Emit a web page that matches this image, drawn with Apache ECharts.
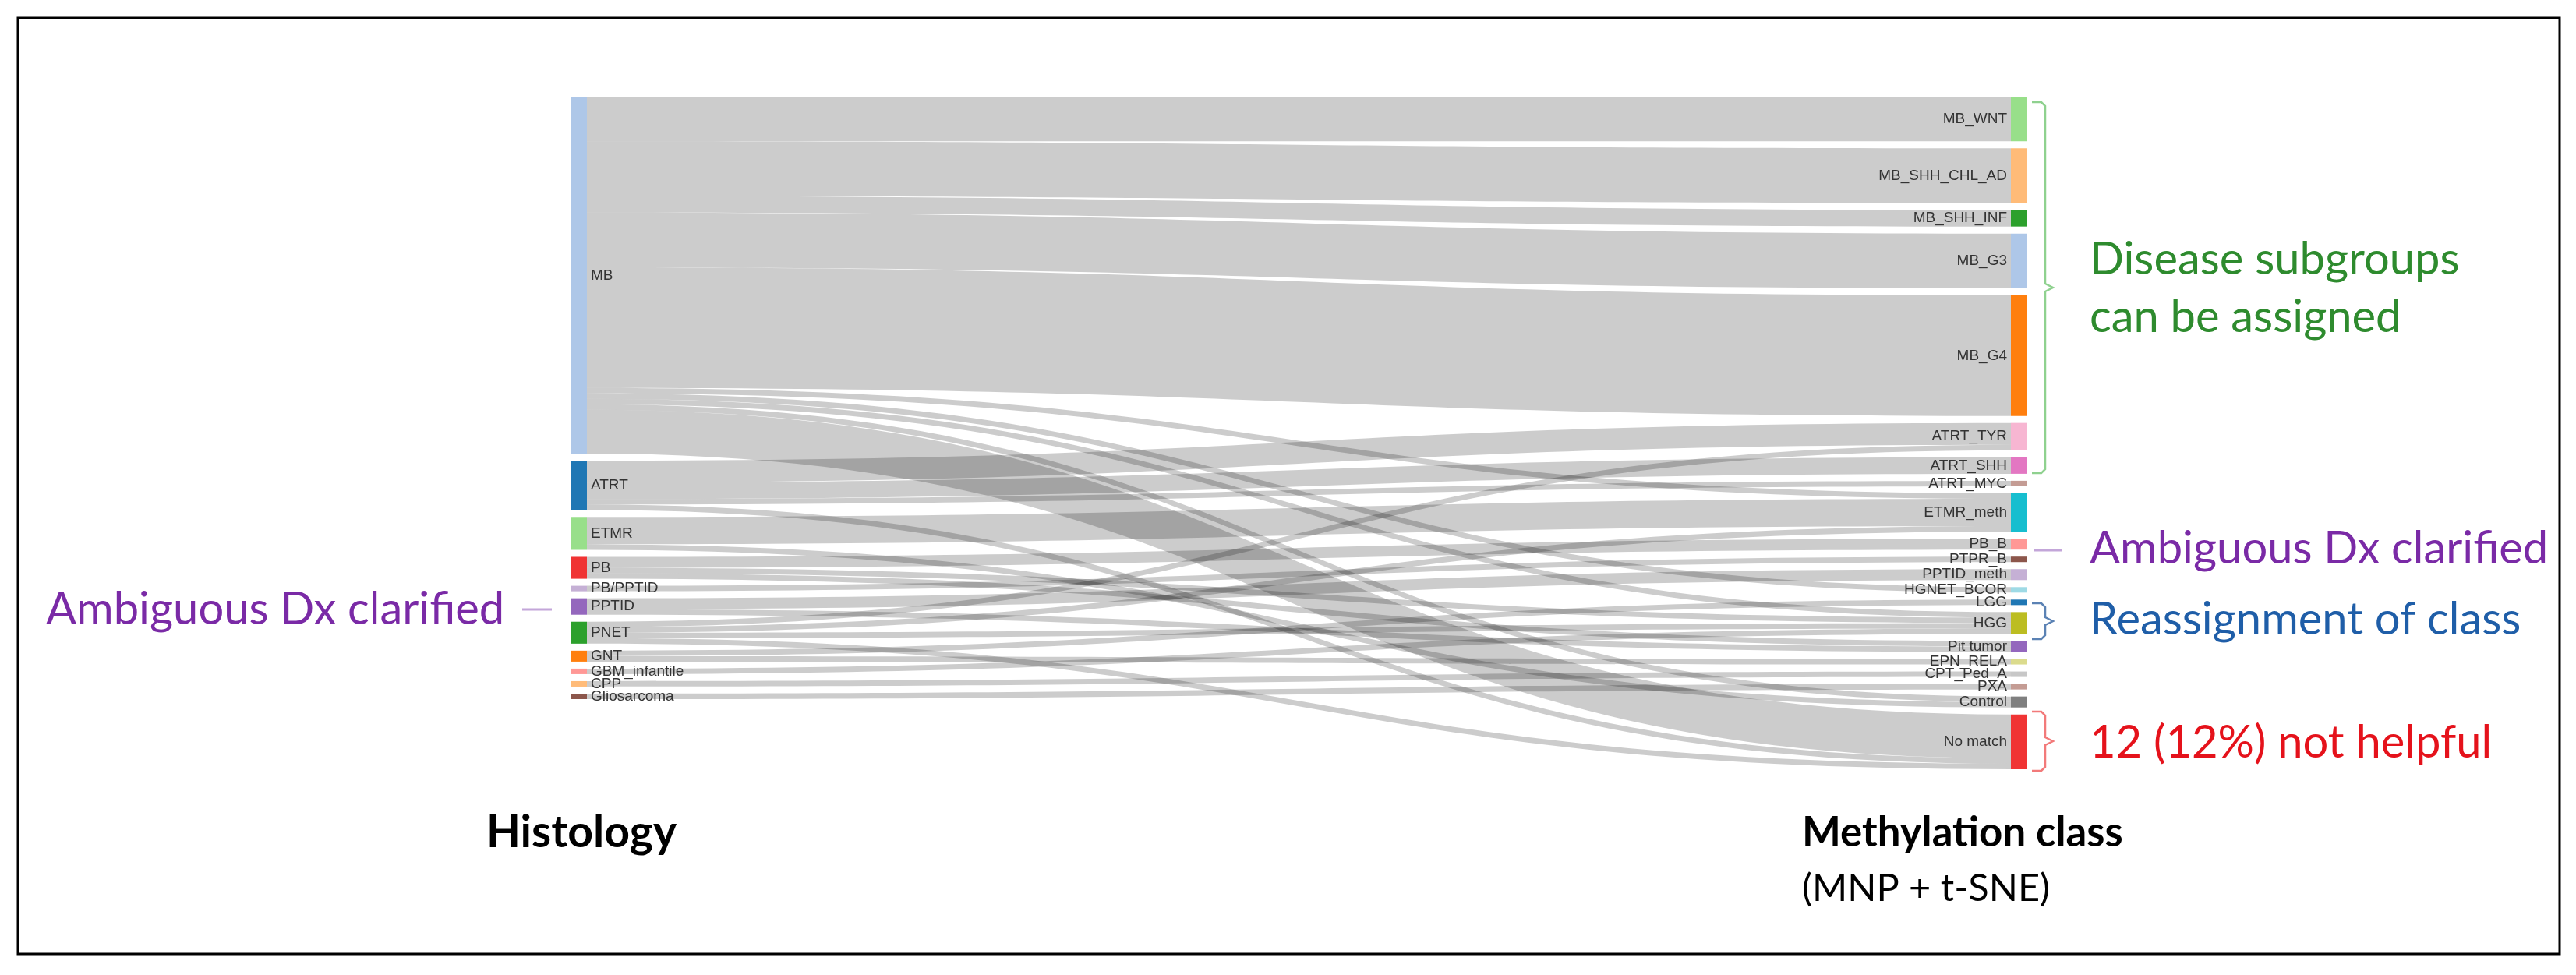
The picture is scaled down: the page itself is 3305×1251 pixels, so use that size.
<!DOCTYPE html>
<html><head><meta charset="utf-8">
<script src="https://cdn.jsdelivr.net/npm/echarts@6/dist/echarts.min.js"></script>
<style>html,body{margin:0;padding:0;background:#fff}#c{width:3305px;height:1251px}</style>
</head><body><div id="c"></div>
<script>
// ---- data ----
const histology = ['MB','ATRT','ETMR','PB','PB/PPTID','PPTID','PNET','GNT','GBM_infantile','CPP','Gliosarcoma'];
const histologyColors = ['#aec7e8','#1f77b4','#98df8a','#f03434','#c5b0d5','#9467bd','#2ca02c','#ff7f0e','#ff9896','#ffbb78','#8c564b'];
const methClasses = ['MB_WNT','MB_SHH_CHL_AD','MB_SHH_INF','MB_G3','MB_G4','ATRT_TYR','ATRT_SHH','ATRT_MYC','ETMR_meth','PB_B','PTPR_B','PPTID_meth','HGNET_BCOR','LGG','HGG','Pit tumor','EPN_RELA','CPT_Ped_A','PXA','Control','No match'];
const methColors = ['#98df8a','#ffbb78','#2ca02c','#aec7e8','#ff7f0e','#f7b6d2','#e377c2','#c49c94','#17becf','#ff9896','#8c564b','#c5b0d5','#9edae5','#1f77b4','#bcbd22','#9467bd','#dbdb8d','#c7c7c7','#c49c94','#7f7f7f','#f03434'];
const flowSource = ['MB','MB','MB','MB','MB','MB','MB','MB','MB','MB',
  'ATRT','ATRT','ATRT','ATRT','ETMR','ETMR','PB','PB','PB','PB/PPTID','PPTID','PPTID',
  'PNET','PNET','PNET','PNET','GNT','GNT','GBM_infantile','CPP','Gliosarcoma'];
const flowTarget = ['MB_WNT','MB_SHH_CHL_AD','MB_SHH_INF','MB_G3','MB_G4','ETMR_meth','HGNET_BCOR','HGG','Control','No match',
  'ATRT_TYR','ATRT_SHH','ATRT_MYC','No match','ETMR_meth','Control','PB_B','HGG','Pit tumor','PTPR_B','PPTID_meth','Pit tumor',
  'ATRT_TYR','ETMR_meth','HGG','No match','LGG','EPN_RELA','HGG','CPT_Ped_A','PXA'];
const flowValue = [8,10,3,10,22,1,1,1,1,8,
  4,3,1,1,5,1,2,1,1,1,2,1,
  1,1,1,1,1,1,1,1,1];
const axisTitles = ['Histology','Methylation class','(MNP + t-SNE)'];

// ---- build ----
const nodes = [];
histology.forEach((n,i)=>nodes.push({name:n, itemStyle:{color:histologyColors[i]}, label:{position:'right'}}));
methClasses.forEach((n,i)=>nodes.push({name:n, itemStyle:{color:methColors[i]}, label:{position:'left'}}));
const links = flowSource.map((s,i)=>({source:s, target:flowTarget[i], value:flowValue[i]}));

const mctx = document.createElement('canvas').getContext('2d');
function fit(text, weight, family, w){
  mctx.font = weight + ' 100px ' + family;
  return Math.round(100 * w / mctx.measureText(text).width * 10)/10;
}
const FAM = 'Lato';
function txt(text, x, y, color, size, weight, align){
  return {type:'text', x:x, y:y, style:{text:text, fill:color, font:(weight||'normal')+' '+size+'px '+FAM, textAlign:align||'left', textVerticalAlign:'middle'}};
}
const annSize = fit('Ambiguous Dx clarified','normal',FAM,588);
const headSize = fit('Histology','bold',FAM,244);
const methSize = fit('Methylation class','bold',FAM,412);
const subSize = fit('(MNP + t-SNE)','normal',FAM,318);

const green='#2e8b2e', purple='#7a2aa6', blue='#1f5ea8', red='#e5121b';
function bracket(x, y0, y1, yp, color){
  return {type:'polyline', shape:{points:[[x,y0],[x+12,y0],[x+17,y0+5],[x+17,yp-5],[x+27,yp],[x+17,yp+5],[x+17,y1-5],[x+12,y1],[x,y1]]},
    style:{stroke:color, fill:null, lineWidth:2.5}};
}

const chart = echarts.init(document.getElementById('c'), null, {renderer:'canvas'});
chart.setOption({
  backgroundColor:'#fff',
  animation:false,
  series:[{
    type:'sankey',
    left:732, right:704, top:125, bottom:264,
    nodeWidth:21, nodeGap:9, layoutIterations:0,
    draggable:false,
    emphasis:{disabled:true},
    label:{fontSize:19, color:'#333', fontFamily:'Liberation Sans', distance:5},
    lineStyle:{color:'#000', opacity:0.2, curveness:0.5},
    itemStyle:{borderWidth:0},
    data:nodes, links:links
  }],
  graphic:[
    {type:'rect', shape:{x:23,y:23,width:3261,height:1201}, style:{stroke:'#000', fill:null, lineWidth:3}},
    txt(axisTitles[0], 624, 1069, '#000', headSize, 'bold'),
    txt(axisTitles[1], 2312, 1069, '#000', methSize, 'bold'),
    txt(axisTitles[2], 2312, 1140, '#000', subSize, 'normal'),
    txt('Ambiguous Dx clarified', 59, 782, purple, annSize),
    {type:'line', shape:{x1:670,y1:782,x2:708,y2:782}, style:{stroke:'#c3a6d9', lineWidth:3}},
    txt('Ambiguous Dx clarified', 2681, 704, purple, annSize),
    {type:'line', shape:{x1:2610,y1:706,x2:2646,y2:706}, style:{stroke:'#c3a6d9', lineWidth:3}},
    txt('Disease subgroups', 2681, 333, green, annSize),
    txt('can be assigned', 2681, 407, green, annSize),
    bracket(2607, 131, 607, 369, '#8fd18f'),
    txt('Reassignment of class', 2681, 795, blue, annSize),
    bracket(2607, 774, 820, 797, '#5b82b4'),
    txt('12 (12%) not helpful', 2681, 953, red, annSize),
    bracket(2607, 913, 989, 951, '#f27a7a')
  ]
});
</script></body></html>
